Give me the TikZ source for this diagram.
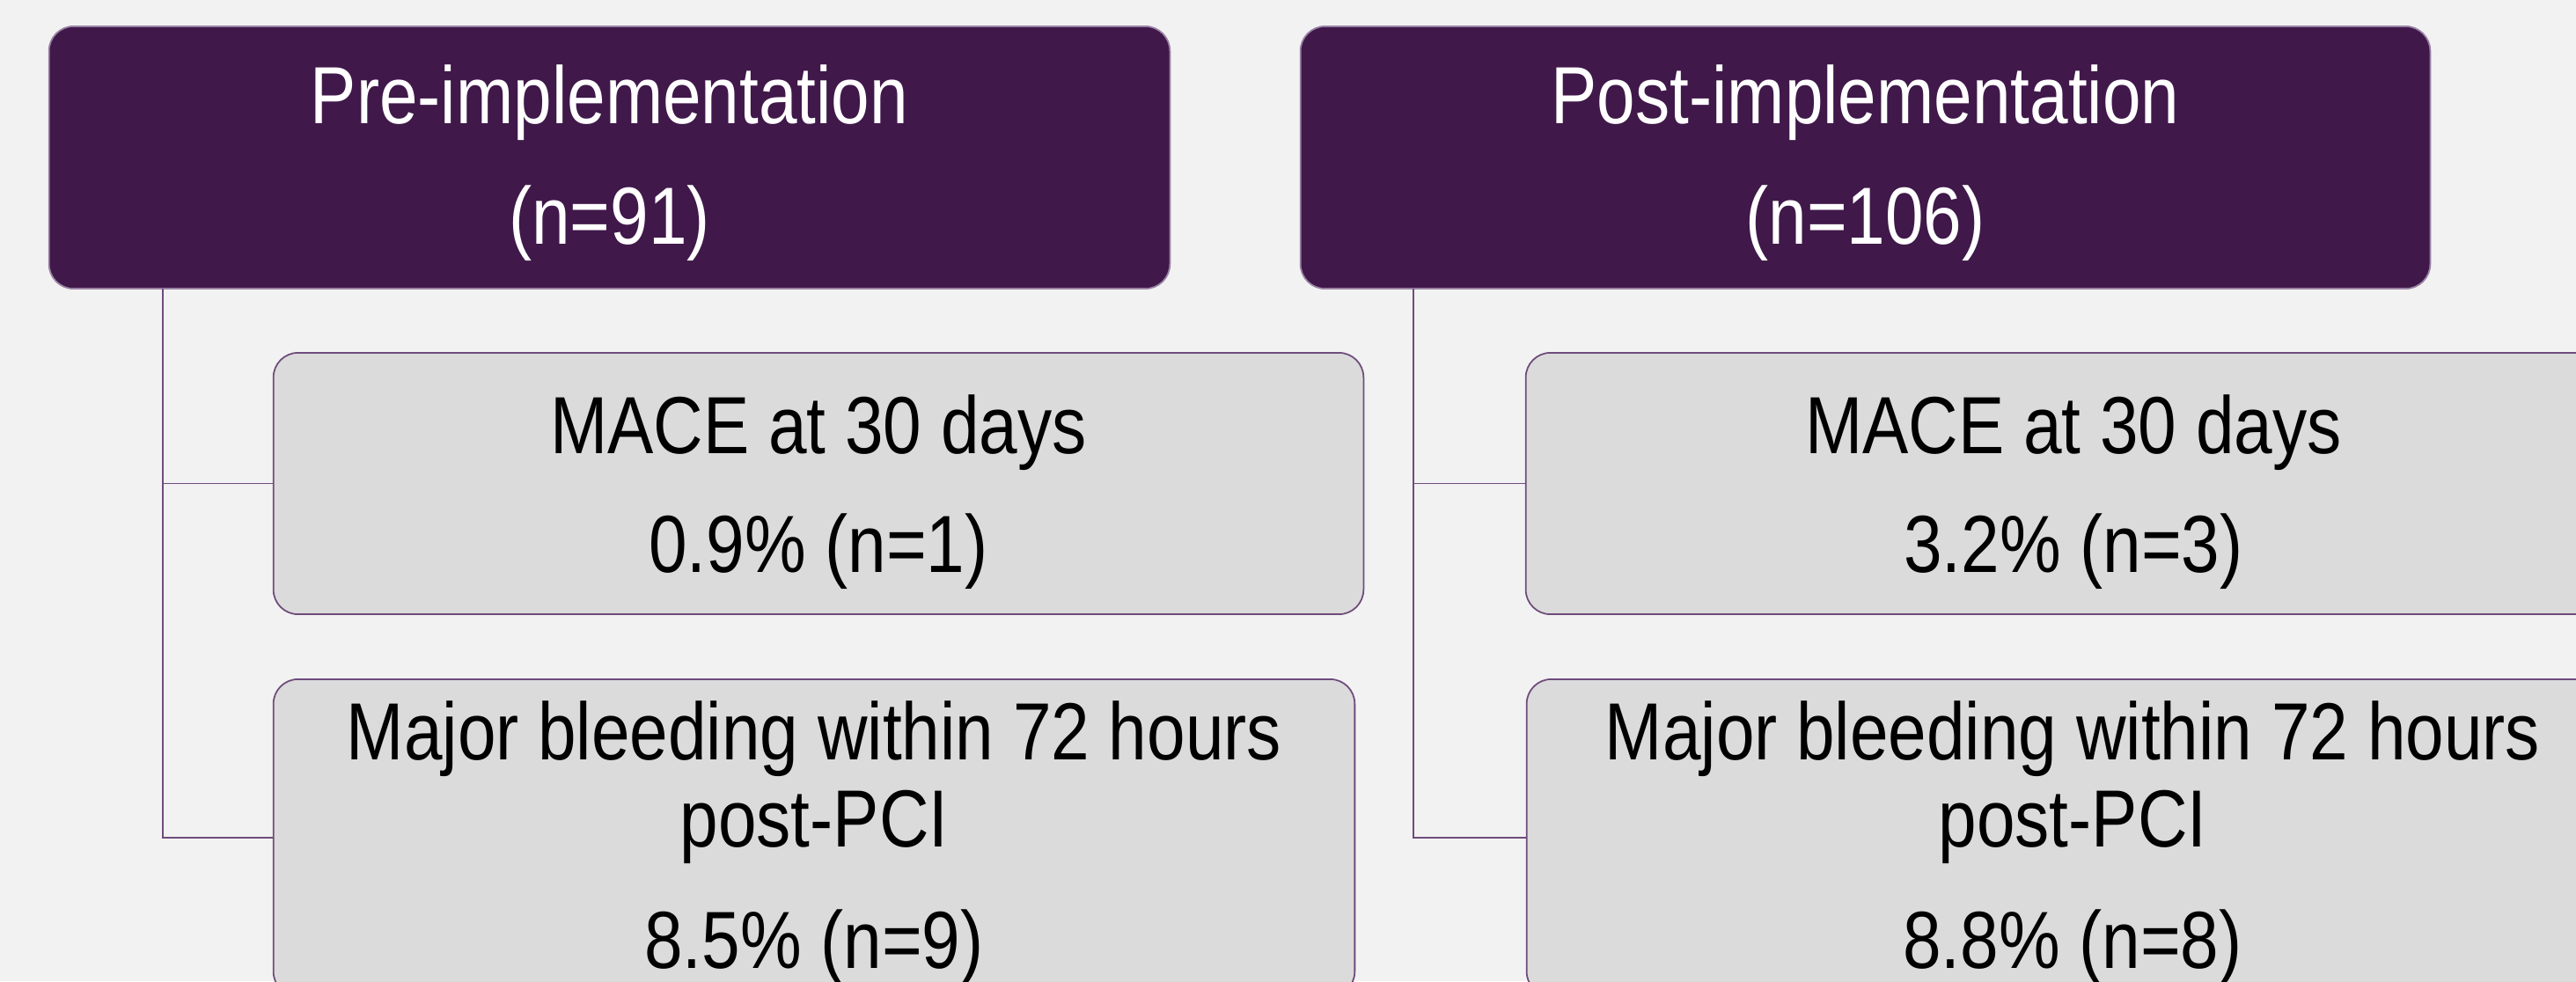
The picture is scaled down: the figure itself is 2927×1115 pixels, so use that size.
\documentclass[tikz,border=0pt]{standalone}
\usepackage{fontspec}
\setmainfont{Liberation Sans}[FakeStretch=0.85]
\definecolor{bg}{HTML}{F2F2F2}
\definecolor{plum}{HTML}{40184A}
\definecolor{plumline}{HTML}{6E4C7B}
\definecolor{boxgray}{HTML}{DBDBDB}
\tikzset{
  headbox/.style={rectangle, rounded corners=0.28cm, fill=plum, draw=plumline!70, line width=0.5pt, inner sep=0pt, outer sep=0pt, minimum height=2.98cm},
  itembox/.style={rectangle, rounded corners=0.28cm, fill=boxgray, draw=plumline, line width=0.5pt, inner sep=0pt, outer sep=0pt},
  link/.style={draw=plumline, line width=0.55pt},
  headtxt/.style={anchor=base, inner sep=0pt, text=white, font=\fontsize{26.2}{28}\selectfont},
  itemtxt/.style={anchor=base, inner sep=0pt, text=black, font=\fontsize{26.2}{28}\selectfont}
}
\begin{document}
\begin{tikzpicture}[x=0.01cm, y=-0.01cm]
\fill[bg] (0,0) rectangle (2927,1115);
\useasboundingbox (0,0) rectangle (2927,1115);
\clip (0,0) rectangle (2927,1115);

% header boxes
\node[headbox, minimum width=12.73cm] (pre) at (692.5,179) {};
\node[headbox, minimum width=12.83cm] (post) at (2119.5,179) {};

% item boxes
\node[itembox, minimum width=12.38cm, minimum height=2.97cm] (lmace) at (930,549.5) {};
\node[itembox, minimum width=12.28cm, minimum height=3.60cm] (lmajor) at (925,952) {};
\node[itembox, minimum width=12.38cm, minimum height=2.97cm] (rmace) at (2353,549.5) {};
\node[itembox, minimum width=12.28cm, minimum height=3.60cm] (rmajor) at (2349,952) {};

% connectors
\coordinate (lstem) at ([xshift=1.29cm]pre.south west);
\coordinate (rstem) at ([xshift=1.28cm]post.south west);
\draw[link] (lstem) |- (lmace.west);
\draw[link] (lstem) |- (lmajor.west);
\draw[link] (rstem) |- (rmace.west);
\draw[link] (rstem) |- (rmajor.west);

% header texts
\node[headtxt] (preA) at (692.5,140) {Pre-implementation};
\node[headtxt] (preB) at (692.5,277) {(n=91)};
\node[headtxt] (postA) at (2119.5,140) {Post-implementation};
\node[headtxt] (postB) at (2119.5,277) {(n=106)};

% item texts
\node[itemtxt] (lmaceA) at (930,515) {MACE at 30 days};
\node[itemtxt] (lmaceB) at (930,650) {0.9\% (n=1)};
\node[itemtxt] (lmajA) at (925,863) {Major bleeding within 72 hours};
\node[itemtxt] (lmajB) at (925,962) {post-PCI};
\node[itemtxt] (lmajC) at (925,1100) {8.5\% (n=9)};

\node[itemtxt] (rmaceA) at (2356,515) {MACE at 30 days};
\node[itemtxt] (rmaceB) at (2356,650) {3.2\% (n=3)};
\node[itemtxt] (rmajA) at (2355,863) {Major bleeding within 72 hours};
\node[itemtxt] (rmajB) at (2355,962) {post-PCI};
\node[itemtxt] (rmajC) at (2355,1100) {8.8\% (n=8)};
\end{tikzpicture}
\end{document}
